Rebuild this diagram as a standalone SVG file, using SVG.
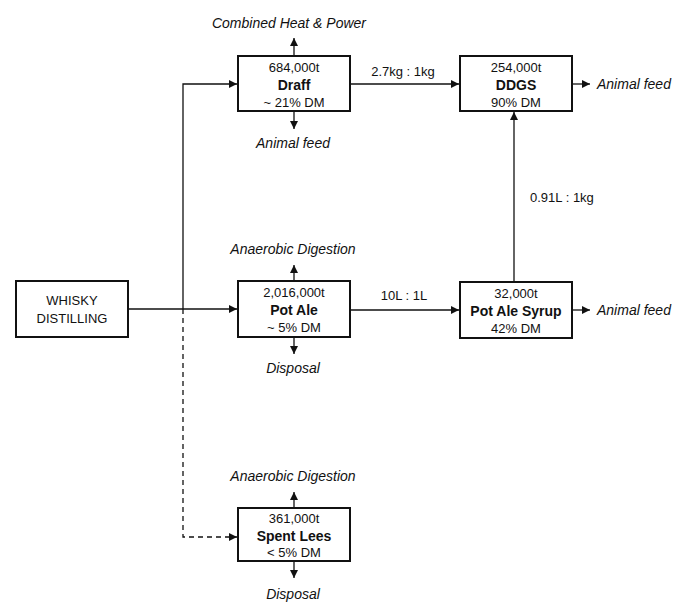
<svg xmlns="http://www.w3.org/2000/svg" width="676" height="602" viewBox="0 0 676 602">
<style>
text{font-family:"Liberation Sans",Arial,sans-serif;font-size:13px;fill:#111;text-anchor:middle}
.b{font-weight:bold;font-size:14px}
.i{font-style:italic;font-size:14px}
.l{text-anchor:start}
.box{fill:#fff;stroke:#111;stroke-width:2}
.c{fill:none;stroke:#111;stroke-width:1.3}
.d{stroke-dasharray:5,4}
</style>
<defs>
<marker id="a" viewBox="0 0 10 10" refX="10" refY="5" markerWidth="8" markerHeight="8" markerUnits="userSpaceOnUse" orient="auto"><path d="M0,0L10,5L0,10z" fill="#111"/></marker>
</defs>
<rect width="676" height="602" fill="#fff"/>
<g id="connectors">
<path class="c" d="M128,309H237" marker-end="url(#a)"/>
<path class="c" d="M183,309V84H237" marker-end="url(#a)"/>
<path class="c d" d="M183,309V537H237" marker-end="url(#a)"/>
<path class="c" d="M350,84H459" marker-end="url(#a)"/>
<path class="c" d="M350,310H459" marker-end="url(#a)"/>
<path class="c" d="M514,282V112" marker-end="url(#a)"/>
<path class="c" d="M572,84H590" marker-end="url(#a)"/>
<path class="c" d="M572,310H590" marker-end="url(#a)"/>
<path class="c" d="M294,56V38" marker-end="url(#a)"/>
<path class="c" d="M294,111V129" marker-end="url(#a)"/>
<path class="c" d="M294,281V265" marker-end="url(#a)"/>
<path class="c" d="M294,337V354" marker-end="url(#a)"/>
<path class="c" d="M294,508V492" marker-end="url(#a)"/>
<path class="c" d="M294,561V578" marker-end="url(#a)"/>
<text x="403" y="76">2.7kg : 1kg</text>
<text x="404" y="300">10L : 1L</text>
<text class="l" x="530" y="202">0.91L : 1kg</text>
</g>
<g id="whisky">
<rect class="box" x="16" y="281" width="112" height="56"/>
<text x="72" y="305">WHISKY</text>
<text x="72" y="323">DISTILLING</text>
</g>
<g id="draff">
<rect class="box" x="238" y="56" width="112" height="55"/>
<text x="294" y="72">684,000t</text>
<text class="b" x="294" y="90">Draff</text>
<text x="294" y="107">~ 21% DM</text>
</g>
<g id="ddgs">
<rect class="box" x="460" y="56" width="112" height="55"/>
<text x="516" y="72">254,000t</text>
<text class="b" x="516" y="90">DDGS</text>
<text x="516" y="107">90% DM</text>
</g>
<g id="potale">
<rect class="box" x="238" y="281" width="112" height="56"/>
<text x="294" y="297">2,016,000t</text>
<text class="b" x="294" y="315">Pot Ale</text>
<text x="294" y="332">~ 5% DM</text>
</g>
<g id="syrup">
<rect class="box" x="460" y="282" width="112" height="56"/>
<text x="516" y="298">32,000t</text>
<text class="b" x="516" y="316">Pot Ale Syrup</text>
<text x="516" y="333">42% DM</text>
</g>
<g id="lees">
<rect class="box" x="238" y="508" width="112" height="53"/>
<text x="294" y="523">361,000t</text>
<text class="b" x="294" y="541">Spent Lees</text>
<text x="294" y="557">&lt; 5% DM</text>
</g>
<g id="outputs">
<text class="i" x="289" y="28">Combined Heat &amp; Power</text>
<text class="i" x="293" y="148">Animal feed</text>
<text class="i l" x="597" y="89">Animal feed</text>
<text class="i l" x="597" y="315">Animal feed</text>
<text class="i" x="293" y="254">Anaerobic Digestion</text>
<text class="i" x="293" y="373">Disposal</text>
<text class="i" x="293" y="481">Anaerobic Digestion</text>
<text class="i" x="293" y="599">Disposal</text>
</g>
</svg>
